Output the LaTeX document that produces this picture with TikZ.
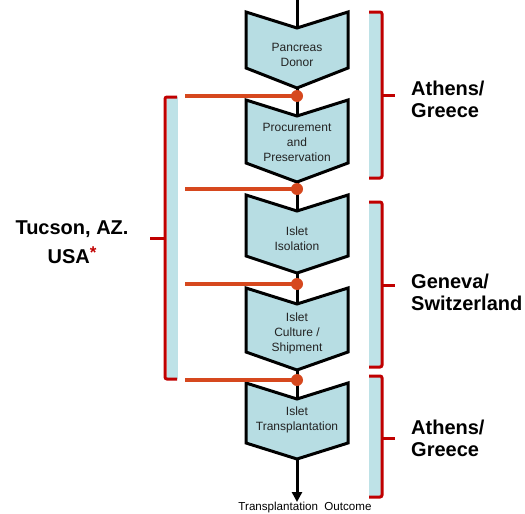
\documentclass[tikz,border=0pt]{standalone}
\usepackage{fontspec}
\setmainfont{Liberation Sans}
\usetikzlibrary{arrows.meta}
\definecolor{chevfill}{RGB}{183,221,227}
\definecolor{barfill}{RGB}{190,226,231}
\definecolor{brred}{RGB}{192,0,0}
\definecolor{linkor}{RGB}{214,72,30}
\definecolor{txtgray}{RGB}{35,35,35}
\newcommand\mychevron[6]{%
  \draw[chev] (246,#2) -- (297,#2+16) -- (348,#2) -- (348,#3) -- (297,#4) -- (246,#3) -- cycle;
  \coordinate (#1-in) at (297,#2+16);
  \coordinate (#1-out) at (297,#4);
  \node[chevtext] (#1) at (297,#5) {#6};
}
\newcommand\rbracket[4]{% name, top, bottom, mid
  \fill[barfill] (369,#2) rectangle (381,#3);
  \draw[bracket] (369,#2) -- (382,#2) -- (382,#3) -- (369,#3);
  \coordinate (#1-tick) at (382,#4);
  \coordinate (#1-tickend) at (395,#4);
  \draw[bracket] (#1-tick) -- (#1-tickend);
}
\begin{document}
\begin{tikzpicture}[x=1pt,y=-1pt,
  chev/.style={draw=black,line width=3pt,fill=chevfill,line join=miter},
  chevtext/.style={align=center,font=\fontsize{12}{15}\selectfont,text=txtgray,inner sep=0pt},
  flow/.style={draw=black,line width=3pt},
  link/.style={draw=linkor,line width=3.2pt},
  linkdot/.style={fill=linkor},
  bracket/.style={draw=brred,line width=3pt,rounded corners=2pt},
  place/.style={font=\bfseries\fontsize{20}{22}\selectfont,align=left,inner sep=0pt,text=black}
]
\useasboundingbox (0,0) rectangle (525,514);

\coordinate (start) at (297,0);
\coordinate (d1) at (297,96);
\coordinate (d2) at (297,189);
\coordinate (d3) at (297,284);
\coordinate (d4) at (297,380);

\mychevron{c1}{12}{68}{88}{55}{Pancreas\\Donor}
\mychevron{c2}{100}{163}{182}{142}{Procurement\\and\\Preservation}
\mychevron{c3}{195}{256}{273}{239}{Islet\\Isolation}
\mychevron{c4}{288}{352}{370}{333}{Islet\\Culture /\\Shipment}
\mychevron{c5}{383}{443}{459}{420}{Islet\\Transplantation}

\draw[flow] (start) -- (c1-in);
\draw[flow] (c1-out) -- (c2-in);
\draw[flow] (c2-out) -- (c3-in);
\draw[flow] (c3-out) -- (c4-in);
\draw[flow] (c4-out) -- (c5-in);

\node[font=\fontsize{11.6}{13}\selectfont,text=black,inner sep=0pt] (outcome) at (305,507) {Transplantation\ \ Outcome};
\coordinate (arrowend) at (297,502);
\draw[flow,-{Triangle[length=10pt,width=10pt]}] (c5-out) -- (arrowend);

% left bracket (Tucson)
\fill[barfill] (167,97) rectangle (178,379);
\draw[bracket] (177,97) -- (165,97) -- (165,379) -- (177,379);
\coordinate (ltick) at (165,238);
\coordinate (ltickend) at (150,238);
\draw[bracket] (ltick) -- (ltickend);
\node[font=\bfseries\fontsize{20}{29}\selectfont,align=center,inner sep=0pt] (tucson) at (72,242)
  {Tucson, AZ.\\USA\raisebox{5pt}{\textcolor{brred}{\fontsize{17}{17}\selectfont *}}};

% links from Tucson
\coordinate (l1) at (185,96);
\coordinate (l2) at (185,189);
\coordinate (l3) at (185,284);
\coordinate (l4) at (185,380);
\draw[link] (l1) -- (d1);
\draw[link] (l2) -- (d2);
\draw[link] (l3) -- (d3);
\draw[link] (l4) -- (d4);
\foreach \d in {d1,d2,d3,d4} \fill[linkdot] (\d) circle (6pt);

% right brackets
\rbracket{r1}{12}{178}{95}
\rbracket{r2}{202}{367}{285}
\rbracket{r3}{376}{497}{438}
\node[place,anchor=west] (athens1) at (411,99) {Athens/\\Greece};
\node[place,anchor=west] (geneva) at (411,292) {Geneva/\\Switzerland};
\node[place,anchor=west] (athens2) at (411,438) {Athens/\\Greece};
\end{tikzpicture}
\end{document}
